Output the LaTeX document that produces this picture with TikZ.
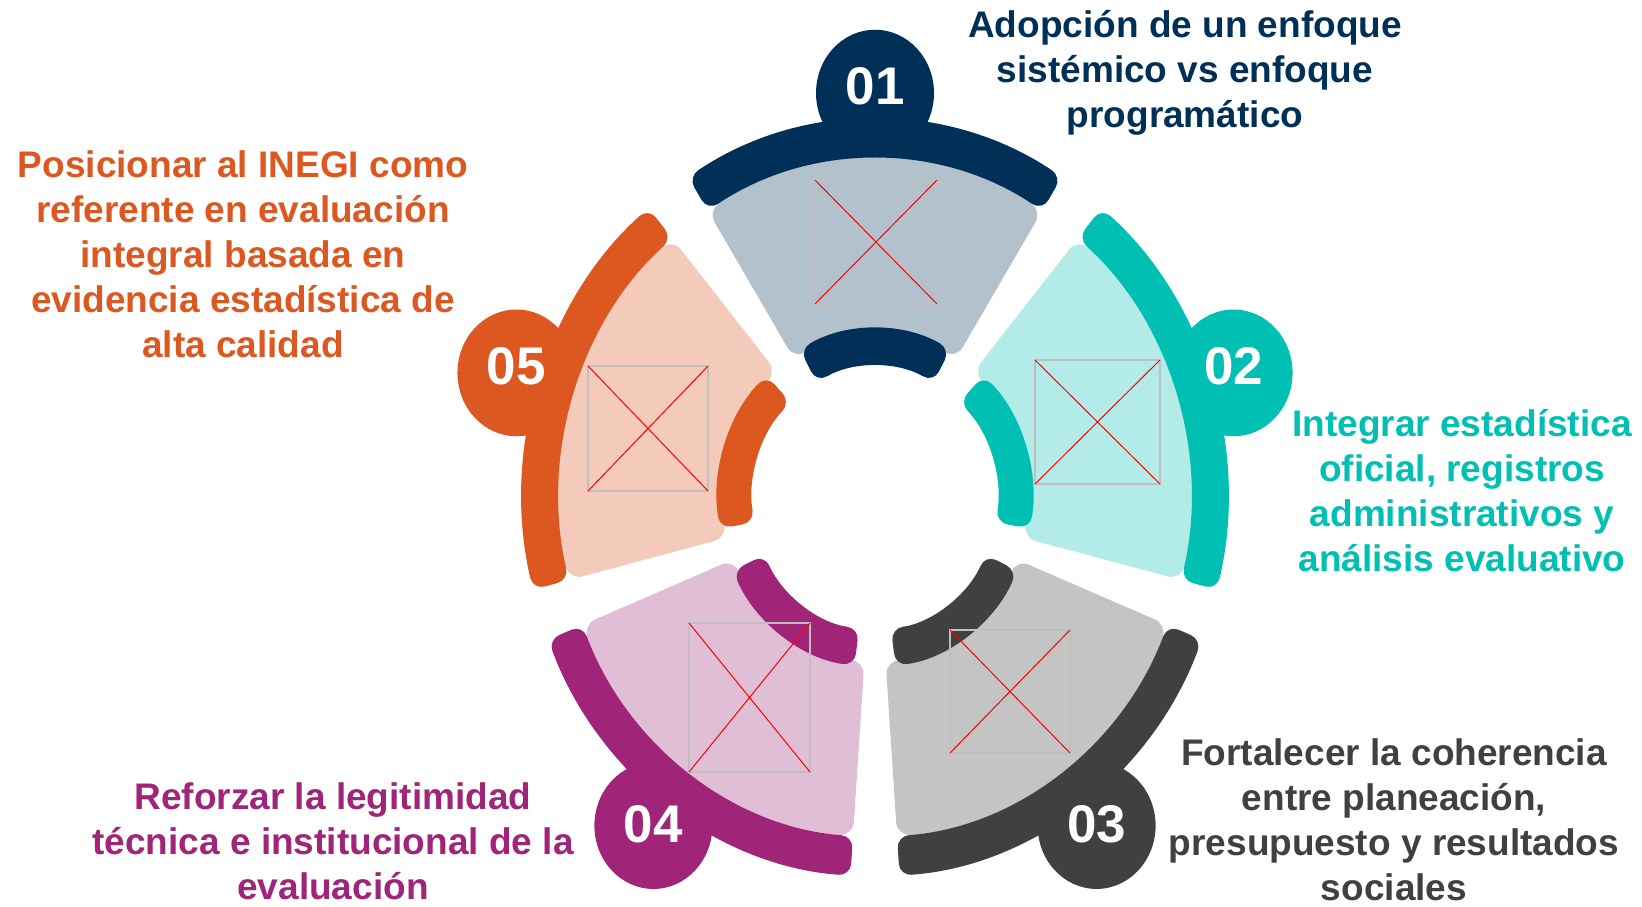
\documentclass[tikz,border=0pt]{standalone}
\usepackage{fontspec}
\setmainfont{Liberation Sans}
\definecolor{cA}{HTML}{003057}
\definecolor{cAl}{HTML}{B3C1CD}
\definecolor{cB}{HTML}{00BFB3}
\definecolor{cBl}{HTML}{B2EBE8}
\definecolor{cC}{HTML}{404040}
\definecolor{cCl}{HTML}{C4C4C4}
\definecolor{cD}{HTML}{A02478}
\definecolor{cDl}{HTML}{E0BED5}
\definecolor{cE}{HTML}{DC5820}
\definecolor{cEl}{HTML}{F4CABB}
\tikzset{
  lbl/.style={align=center, inner sep=0pt, anchor=north,
    font=\fontsize{18.5}{22.5}\selectfont\bfseries,
    execute at begin node={\rule{0pt}{15pt}}},
  numtxt/.style={text=white, font=\fontsize{26.5}{30}\selectfont\bfseries, inner sep=0pt},
  phbox/.style={draw=black!25, line width=0.8pt},
  phx/.style={draw=red, line width=0.5pt},
}
\begin{document}
\begin{tikzpicture}[x=0.5pt,y=-0.5pt]
\fill[white] (0,0) rectangle (1642,906);
\useasboundingbox (0,0) rectangle (1642,906);
\begin{scope}[shift={(875,498)}, yscale=-1.074]
\foreach \k/\a/\dk/\lt/\ys in {1/90/cA/cAl/3.5pt, 2/18/cB/cBl/3.5pt, 3/-54/cC/cCl/0.5pt, 4/-126/cD/cDl/0.5pt, 5/-198/cE/cEl/3.5pt}{
  \fill[\lt, rounded corners=7pt] ({\a-32}:152) arc[start angle=\a-32, end angle=\a+32, radius=152]
     -- ({\a+32}:315.5) arc[start angle=\a+32, end angle=\a-32, radius=315.5] -- cycle;
  \fill[\dk, rounded corners=6pt] ({\a-32}:315.5) arc[start angle=\a-32, end angle=\a+32, radius=315.5]
     -- ({\a+32}:352.5) arc[start angle=\a+32, end angle=\a-32, radius=352.5] -- cycle;
  \fill[\dk, rounded corners=6pt] ({\a-28.5}:122.5) arc[start angle=\a-28.5, end angle=\a+28.5, radius=122.5]
     -- ({\a+28.5}:157.5) arc[start angle=\a+28.5, end angle=\a-28.5, radius=157.5] -- cycle;
  \fill[\dk] (\a:377) circle[radius=59];
  \node[numtxt, yshift=\ys] (n\k) at (\a:377) {0\k};
}
\end{scope}
% image placeholders
\draw[phbox] (815,180) rectangle (937,304);
\draw[phx] (815,180) -- (937,304) (815,304) -- (937,180);
\draw[phbox] (1035,360) rectangle (1160,484);
\draw[phx] (1035,360) -- (1160,484) (1035,484) -- (1160,360);
\draw[phbox] (950,630) rectangle (1070,753);
\draw[phx] (950,630) -- (1070,753) (950,753) -- (1070,630);
\draw[phbox] (689,623) rectangle (810,772);
\draw[phx] (689,623) -- (810,772) (689,772) -- (810,623);
\draw[phbox] (588,366) rectangle (708,491);
\draw[phx] (588,366) -- (708,491) (588,491) -- (708,366);
% labels
\node[lbl, text=cA] (t1) at (1185,10) {Adopción de un enfoque\\sistémico vs enfoque\\programático};
\node[lbl, text=cB] (t2) at (1462,409) {Integrar estadística\\oficial, registros\\administrativos y\\análisis evaluativo};
\node[lbl, text=cC] (t3) at (1394,738) {Fortalecer la coherencia\\entre planeación,\\presupuesto y resultados\\sociales};
\node[lbl, text=cD] (t4) at (333,782) {Reforzar la legitimidad\\técnica e institucional de la\\evaluación};
\node[lbl, text=cE] (t5) at (243,150) {Posicionar al INEGI como\\referente en evaluación\\integral basada en\\evidencia estadística de\\alta calidad};
\end{tikzpicture}
\end{document}
